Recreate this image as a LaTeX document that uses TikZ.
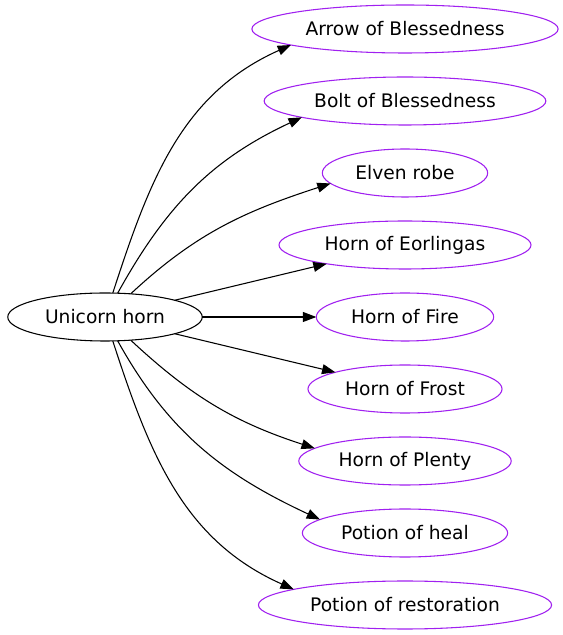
\documentclass[tikz,border=0pt]{standalone}
\usepackage{fontspec}
\setmainfont{DejaVu Sans}
\usepackage{tikz}
\usetikzlibrary{arrows.meta}
\usetikzlibrary{shapes}
\definecolor{itemcol}{HTML}{A020F0}
\begin{document}
\begin{tikzpicture}[x=.75pt,y=.75pt,
  every node/.style={font=\fontsize{14pt}{17pt}\selectfont},
  srcnode/.style={ellipse,draw,line width=.8pt,inner xsep=6.6pt,inner ysep=0pt,minimum height=36pt,outer sep=0pt},
  itemnode/.style={srcnode,draw=itemcol},
  link/.style={line width=.8pt,-{Triangle[length=10pt,width=7.4pt]}}]
 \useasboundingbox[fill=white] (0,0) rectangle (563,635);
 \node[srcnode] (horn) at (105,318) {Unicorn horn};
 \node[itemnode] (arrow) at (405,606) {Arrow of Blessedness};
 \node[itemnode] (bolt) at (405,534) {Bolt of Blessedness};
 \node[itemnode] (robe) at (405,462) {Elven robe};
 \node[itemnode] (eorl) at (405,390) {Horn of Eorlingas};
 \node[itemnode] (fire) at (405,318) {Horn of Fire};
 \node[itemnode] (frost) at (405,246) {Horn of Frost};
 \node[itemnode] (plenty) at (405,174) {Horn of Plenty};
 \node[itemnode] (heal) at (405,102) {Potion of heal};
 \node[itemnode] (restore) at (405,30) {Potion of restoration};
 \draw[link] (horn.72) to[out=72,in=204] (arrow.188);
 \draw[link] (horn.62) to[out=61,in=205] (bolt.189);
 \draw[link] (horn.42) to[out=43,in=198] (robe.188);
 \draw[link] (horn) -- (eorl);
 \draw[link] (horn) -- (fire);
 \draw[link] (horn) -- (frost);
 \draw[link] (horn.-42) to[out=-43,in=162] (plenty.172);
 \draw[link] (horn.-62) to[out=-61,in=155] (heal.171);
 \draw[link] (horn.-72) to[out=-72,in=156] (restore.172);
\end{tikzpicture}
\end{document}
